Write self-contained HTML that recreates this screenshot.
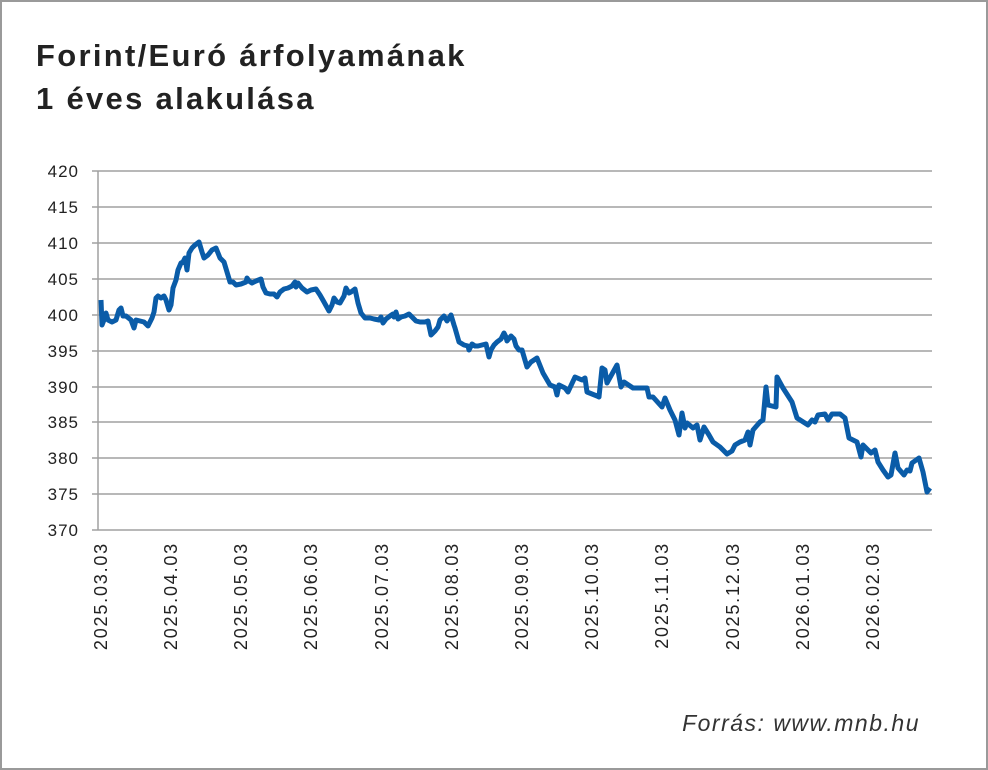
<!DOCTYPE html>
<html><head><meta charset="utf-8"><style>
body{margin:0;background:#fff;}
.wrap{position:relative;width:988px;height:770px;overflow:hidden;}
</style></head><body><div class="wrap">
<svg width="988" height="770" xmlns="http://www.w3.org/2000/svg" font-family="Liberation Sans, sans-serif">
<rect x="1" y="1" width="986" height="768" fill="#fff" stroke="#9a9a9a" stroke-width="2"/>
<text x="36" y="66" font-size="31" font-weight="bold" fill="#222" letter-spacing="2.3">Forint/Euró árfolyamának</text>
<text x="36" y="109" font-size="31" font-weight="bold" fill="#222" letter-spacing="2.3">1 éves alakulása</text>
<g stroke="#a0a0a0" stroke-width="1.5">
<line x1="92" y1="171" x2="932" y2="171"/><line x1="92" y1="207" x2="932" y2="207"/>
<line x1="92" y1="243" x2="932" y2="243"/><line x1="92" y1="279" x2="932" y2="279"/>
<line x1="92" y1="315" x2="932" y2="315"/><line x1="92" y1="351" x2="932" y2="351"/>
<line x1="92" y1="387" x2="932" y2="387"/><line x1="92" y1="422" x2="932" y2="422"/>
<line x1="92" y1="458" x2="932" y2="458"/><line x1="92" y1="494" x2="932" y2="494"/>
<line x1="92" y1="530" x2="932" y2="530"/>
<line x1="98" y1="171" x2="98" y2="530"/>
</g>
<g font-size="17" fill="#222" text-anchor="end" letter-spacing="1">
<text x="79" y="177">420</text><text x="79" y="213">415</text><text x="79" y="249">410</text>
<text x="79" y="285">405</text><text x="79" y="321">400</text><text x="79" y="357">395</text>
<text x="79" y="393">390</text><text x="79" y="428">385</text><text x="79" y="464">380</text>
<text x="79" y="500">375</text><text x="79" y="536">370</text>
</g>
<g font-size="18" fill="#222" text-anchor="end" letter-spacing="1.8">
<text transform="translate(107,542) rotate(-90)">2025.03.03</text>
<text transform="translate(177,542) rotate(-90)">2025.04.03</text>
<text transform="translate(247,542) rotate(-90)">2025.05.03</text>
<text transform="translate(317,542) rotate(-90)">2025.06.03</text>
<text transform="translate(388,542) rotate(-90)">2025.07.03</text>
<text transform="translate(458,542) rotate(-90)">2025.08.03</text>
<text transform="translate(528,542) rotate(-90)">2025.09.03</text>
<text transform="translate(598,542) rotate(-90)">2025.10.03</text>
<text transform="translate(668,542) rotate(-90)">2025.11.03</text>
<text transform="translate(739,542) rotate(-90)">2025.12.03</text>
<text transform="translate(809,542) rotate(-90)">2026.01.03</text>
<text transform="translate(879,542) rotate(-90)">2026.02.03</text>
</g>
<polyline fill="none" stroke="#0a5ca8" stroke-width="5" stroke-linejoin="round" points="101,300 102,325 104,320 106,313 108,320 112,322 116,320 119,310 121,308 123,316 126,316 131,320 134,328 136,320 140,321 144,322 148,326 152,318 154,312 156,298 158,296 161,298 164,296 166,300 169,310 171,305 173,288 176,280 178,270 181,263 183,262 185,258 187,270 189,253 192,248 195,245 199,242 202,252 204,258 208,255 212,250 216,248 220,258 224,262 227,272 230,282 233,282 236,285 241,284 246,282 247,278 249,281 252,283 256,281 261,279 263,287 266,293 270,294 274,294 277,297 280,292 284,289 288,288 292,286 295,282 296,287 298,283 302,288 307,292 311,290 316,289 320,295 324,302 329,311 332,305 334,298 337,302 340,303 344,296 346,288 349,293 351,292 355,289 358,303 361,313 365,318 370,318 374,319 379,320 381,317 383,323 386,319 390,316 393,314 394,317 396,312 398,319 401,317 405,316 409,314 412,317 416,321 420,322 425,322 428,321 431,335 435,331 438,327 440,320 444,316 447,321 451,315 454,325 455,328 459,342 464,345 468,346 469,350 472,344 475,346 478,346 482,345 486,344 489,357 491,350 494,345 497,342 501,339 504,333 506,337 507,341 511,336 514,339 516,346 519,350 522,350 527,367 531,362 537,358 543,373 550,385 555,387 557,395 559,385 565,388 568,392 575,377 582,380 585,378 587,392 597,396 599,397 602,368 605,370 607,383 617,365 621,387 624,382 633,388 643,388 647,388 649,397 653,397 662,407 665,398 670,410 675,420 679,435 682,413 685,428 687,423 693,428 697,425 700,440 704,427 709,435 713,442 720,447 727,454 732,451 735,445 740,442 745,440 748,432 750,445 753,430 760,422 763,420 766,387 768,405 776,407 777,377 783,388 792,402 797,418 808,425 812,420 815,422 818,415 825,414 828,420 832,414 840,414 845,418 849,438 857,442 861,457 863,445 871,453 875,450 878,462 883,470 888,477 891,475 895,453 898,468 904,475 907,470 910,471 912,463 919,458 923,472 927,492 930,488"/>
<text x="920" y="731" font-size="23" font-style="italic" fill="#333" text-anchor="end" letter-spacing="1.5">Forrás: www.mnb.hu</text>
</svg>
</div></body></html>
